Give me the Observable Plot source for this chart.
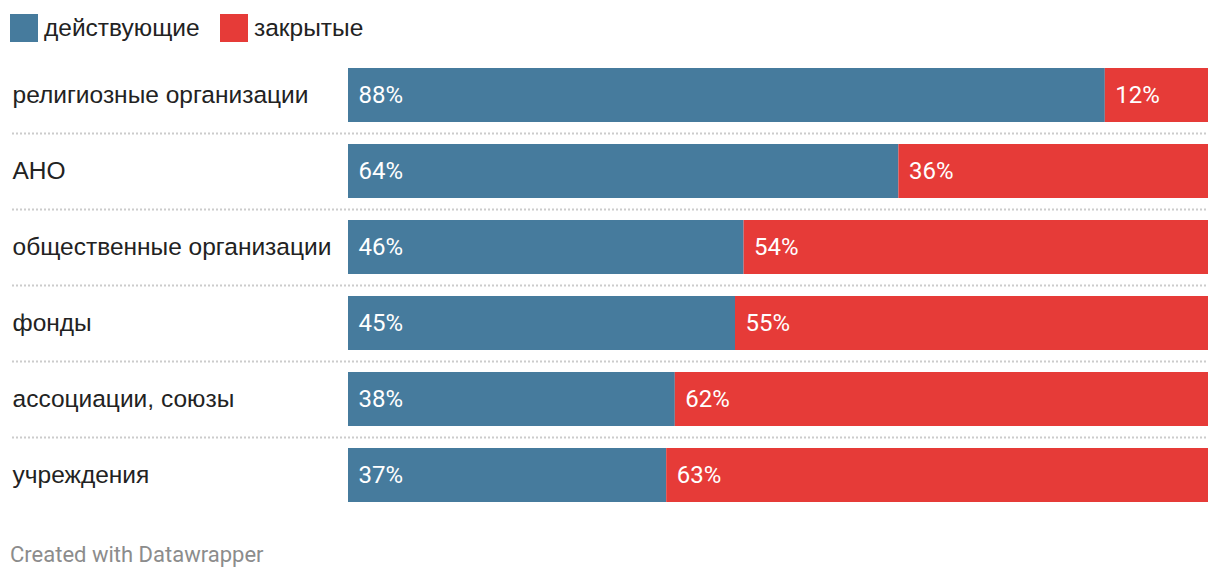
<!DOCTYPE html>
<html><head><meta charset="utf-8">
<script src="https://cdn.jsdelivr.net/npm/d3@7"></script>
<script src="https://cdn.jsdelivr.net/npm/@observablehq/plot@0.6"></script>
<style>
body{margin:0;background:#fff;font-family:"Liberation Sans",Arial,sans-serif;}
#legend{height:56px;position:relative;font-size:24.5px;color:#222;}
.li{position:absolute;top:14px;display:flex;align-items:center;height:28px;}
.sw{width:28px;height:28px;margin-right:6px;}
#footer{font-family:Roboto,sans-serif;font-size:22px;color:#8c8c8c;padding-left:10px;margin-top:26px;}
</style></head><body>
<div id="legend"></div>
<div id="chart"></div>
<div id="footer">Created with Datawrapper</div>
<script>
const categories = ["религиозные организации","АНО","общественные организации","фонды","ассоциации, союзы","учреждения"];
const active = [88,64,46,45,38,37];
const closed = [12,36,54,55,62,63];
const seriesNames = ["действующие","закрытые"];
const colors = ["#467b9d","#e63b38"];

const lg = document.getElementById("legend");
[[10,0],[220,1]].forEach(([left,i])=>{
  const d=document.createElement("div");d.className="li";d.style.left=left+"px";
  d.innerHTML=`<div class="sw" style="background:${colors[i]}"></div><span>${seriesNames[i]}</span>`;
  lg.appendChild(d);
});

const rows = [];
categories.forEach((c,i)=>{
  rows.push({cat:c, series:seriesNames[0], value:active[i], start:0});
  rows.push({cat:c, series:seriesNames[1], value:closed[i], start:active[i]});
});

const chart = Plot.plot({
  width:1220, height:460,
  marginLeft:348, marginRight:12, marginTop:1, marginBottom:3,
  x:{domain:[0,100], axis:null},
  y:{domain:categories, range:[1,457], paddingInner:22/76, paddingOuter:11/76, axis:null},
  color:{domain:seriesNames, range:colors},
  style:{fontFamily:"'Liberation Sans', Arial, sans-serif"},
  marks:[
    Plot.ruleY(categories.slice(0,-1), {y:d=>d, dy:38, stroke:"#cccccc", strokeWidth:2, strokeDasharray:"2,2", insetLeft:-336}),
    Plot.barX(rows, {y:"cat", x1:"start", x2:d=>d.start+d.value, fill:"series"}),
    Plot.text(rows, {y:"cat", x:"start", text:d=>d.value+"%", textAnchor:"start", dx:10, fill:"white", fontSize:24, fontFamily:"Roboto, sans-serif"}),
    Plot.text(categories, {y:d=>d, frameAnchor:"left", textAnchor:"start", dx:-336, fill:"#222", fontSize:24.5})
  ]
});
document.getElementById("chart").appendChild(chart);
</script>
</body></html>
